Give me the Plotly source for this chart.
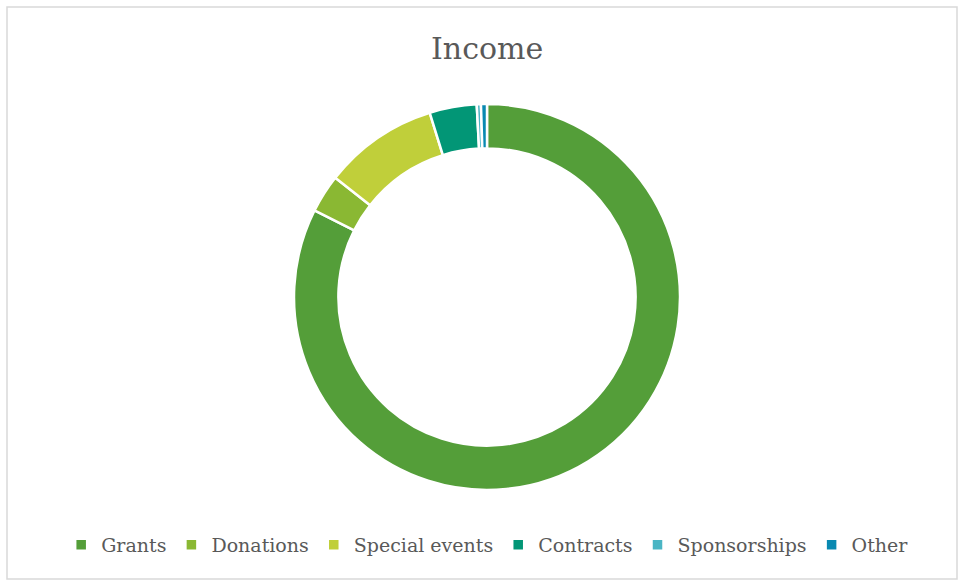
import plotly.graph_objects as go

categories = ["Grants", "Donations", "Special events", "Contracts", "Sponsorships", "Other"]
values = [82.4, 3.2, 9.6, 3.95, 0.35, 0.5]
colors = ["#549E39", "#8AB833", "#C0CF3A", "#029676", "#4AB5C4", "#0989B1"]

W, H = 960, 581
cx, cy, R = 487, 297, 193

fig = go.Figure()
fig.add_trace(go.Pie(
    labels=categories,
    values=values,
    hole=0.77,
    sort=False,
    direction="clockwise",
    rotation=0,
    textinfo="none",
    hoverinfo="label+percent",
    marker=dict(colors=colors, line=dict(color="white", width=2.5)),
    domain=dict(x=[(cx - R) / W, (cx + R) / W], y=[1 - (cy + R) / H, 1 - (cy - R) / H]),
))

fig.update_layout(
    width=W, height=H,
    margin=dict(l=0, r=0, t=0, b=0),
    paper_bgcolor="white",
    plot_bgcolor="white",
    showlegend=True,
    legend=dict(
        orientation="h",
        x=0.508, xanchor="center",
        y=1 - 545 / H, yanchor="middle",
        font=dict(family="DejaVu Serif", size=19, color="#595959"),
        itemwidth=30,
        traceorder="normal",
    ),
    annotations=[dict(
        text="Income", x=cx / W, y=1 - 49 / H, xref="paper", yref="paper",
        xanchor="center", yanchor="middle", showarrow=False,
        font=dict(family="DejaVu Serif", size=30, color="#595959"),
    )],
    shapes=[dict(
        type="rect", xref="paper", yref="paper",
        x0=7 / W, x1=957 / W, y0=1 - 579 / H, y1=1 - 7 / H,
        line=dict(color="#D9D9D9", width=1.5), fillcolor="rgba(0,0,0,0)",
    )],
)

fig.write_html(
    "out.html",
    config={"displayModeBar": False},
    post_script="document.body.style.margin='0';document.body.style.overflow='hidden';",
)
